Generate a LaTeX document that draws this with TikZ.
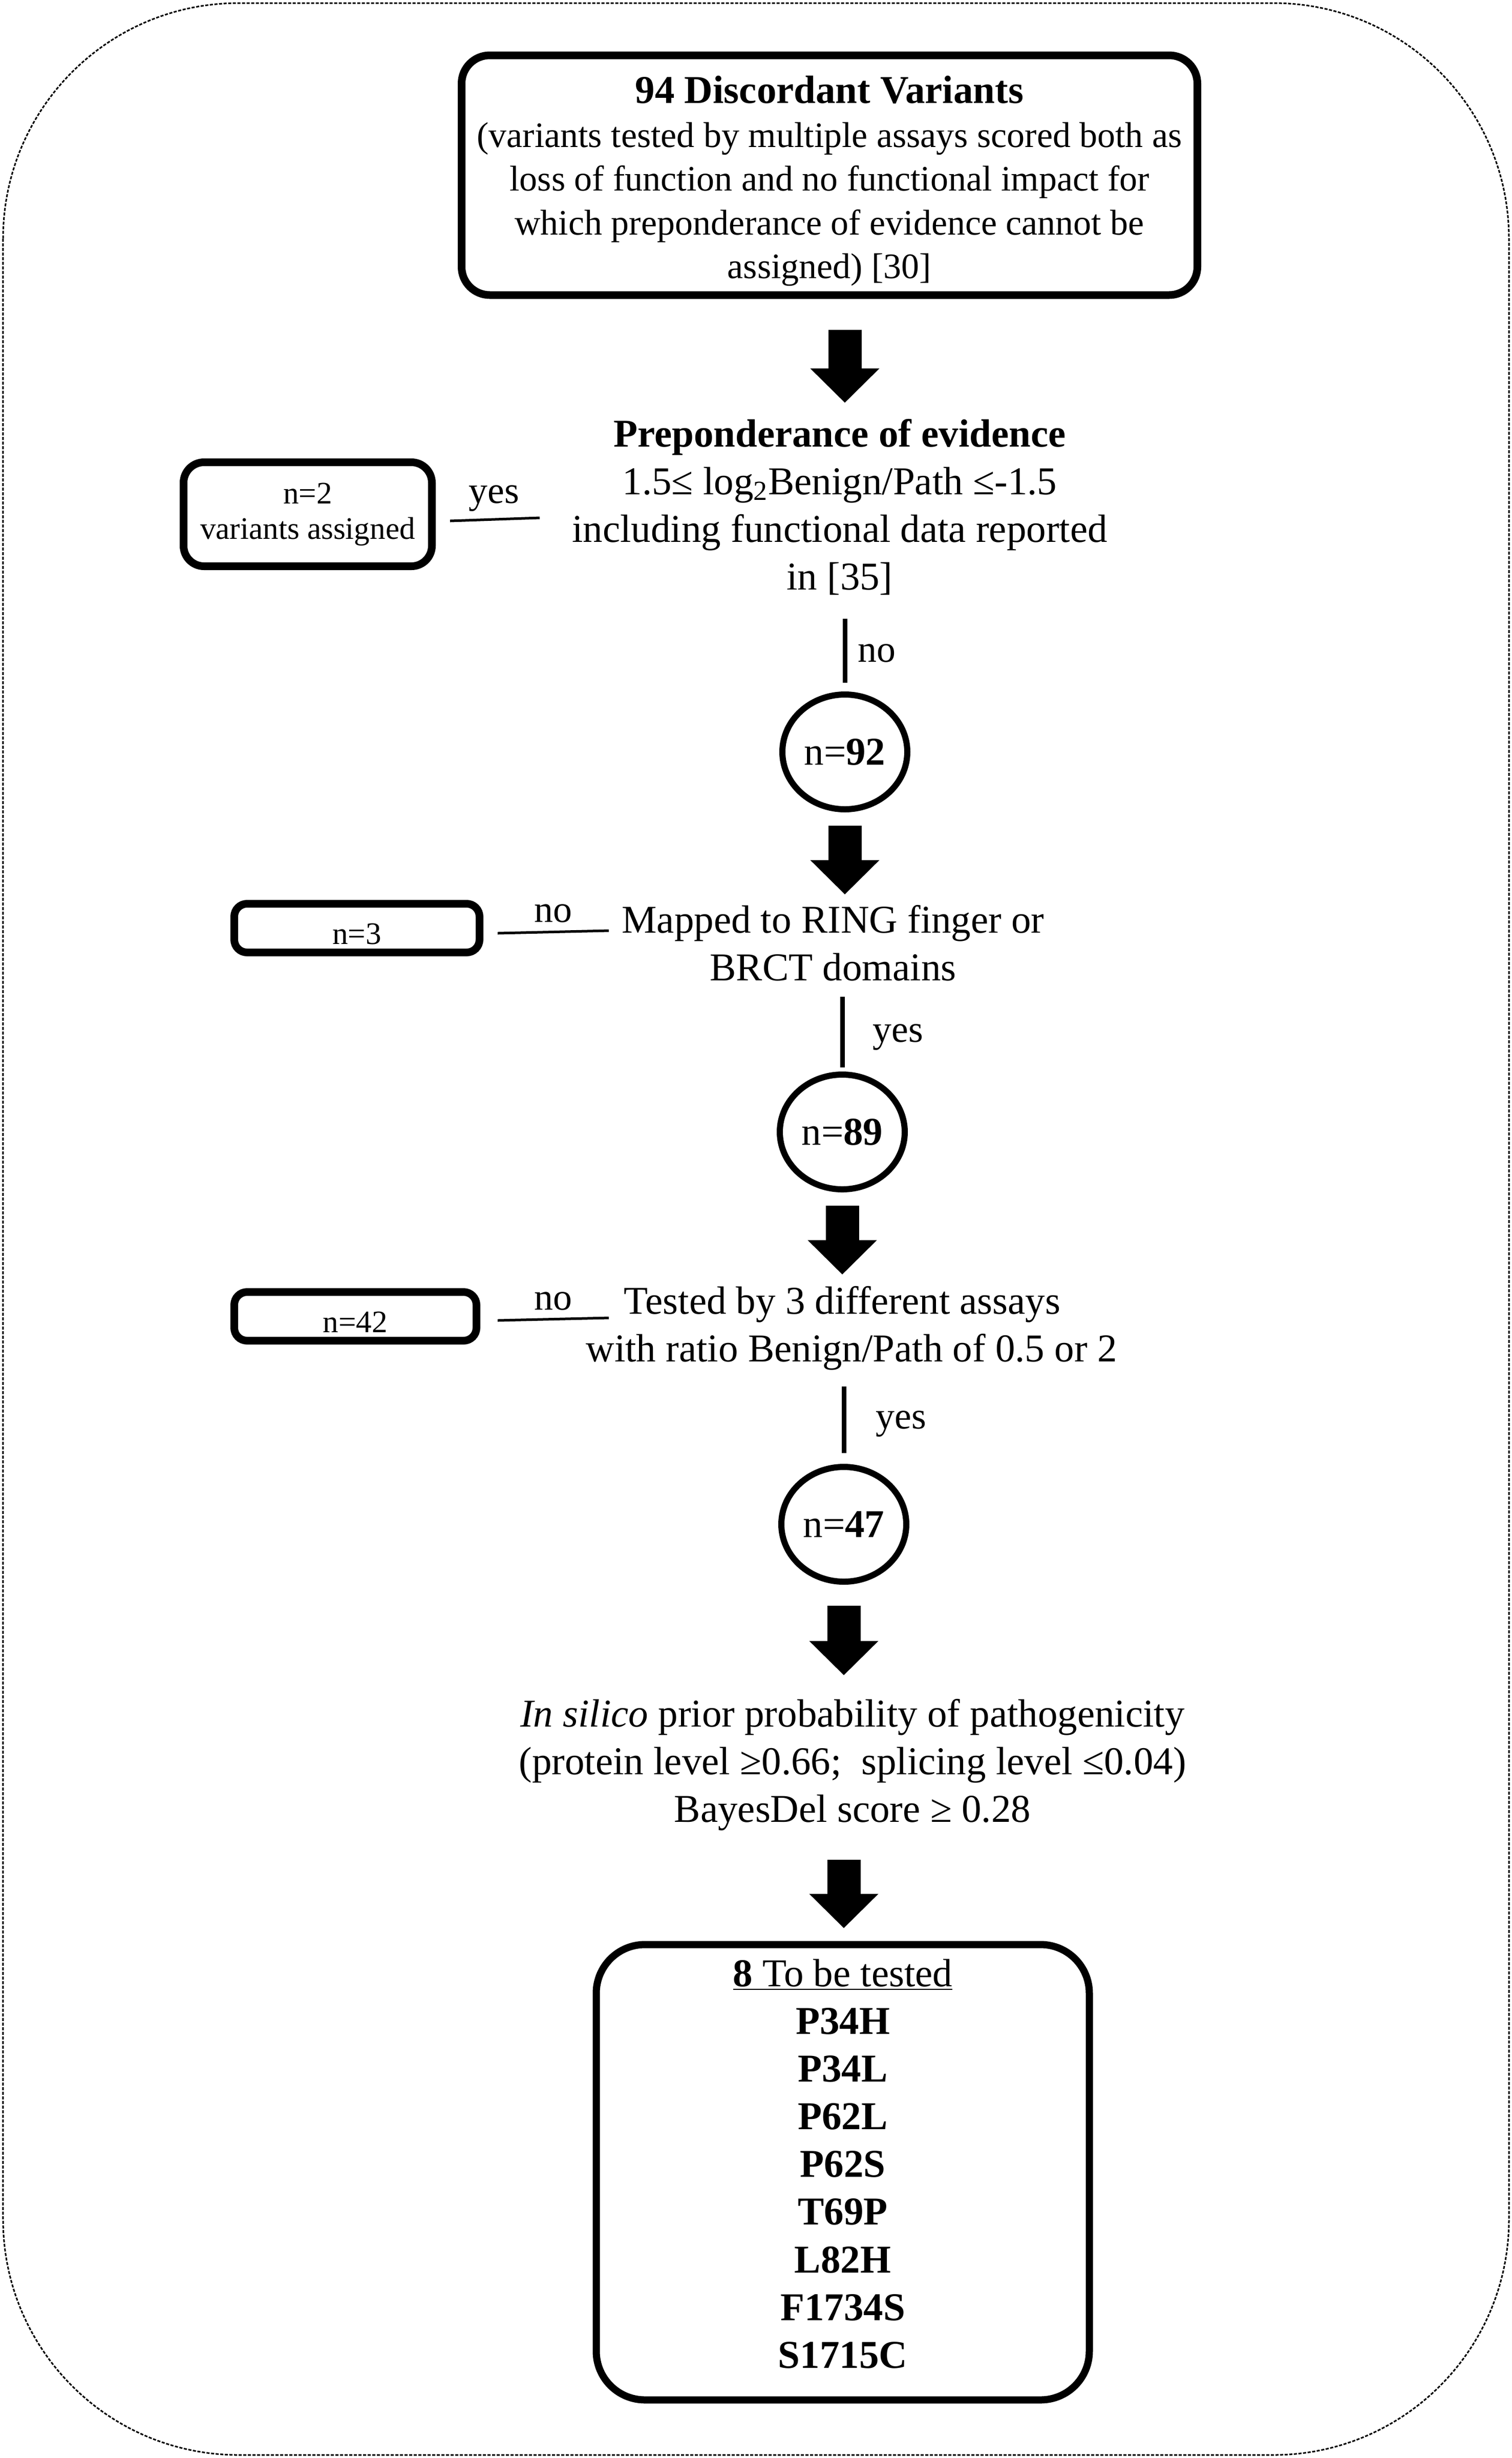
\documentclass[tikz,border=0pt]{standalone}
\usepackage{fontspec}
\setmainfont{Liberation Serif}
\usetikzlibrary{shapes.geometric,arrows.meta}

\begin{document}
\begin{tikzpicture}[
    font=\fontsize{21.9}{26.5}\selectfont,
    every node/.style={inner sep=0pt, align=center},
    box/.style={draw, line width=0.15cm},
    count/.style={draw, ellipse, line width=0.12cm, minimum width=2.44cm, minimum height=2.24cm},
    small/.style={font=\fontsize{17.4}{19.6}\selectfont},
    tag/.style={font=\fontsize{21}{25}\selectfont},
    bigarrow/.style={line width=0.65cm, -{Triangle[width=1.31cm,length=0.67cm]}},
    stem/.style={line width=0.09cm},
    side/.style={line width=0.05cm}]
    \useasboundingbox (0,0) rectangle (29.53,-47.99);
    \draw[line width=0.03cm, dash pattern=on 0.06cm off 0.03cm, rounded corners=4.6cm] (0.06,-0.06) rectangle (29.47,-47.93);

    \node[box, text height=119pt, rounded corners=0.55cm, minimum width=14.37cm, minimum height=4.68cm, font=\fontsize{19.9}{24.3}\selectfont] (start) at (16.20,-3.42)
      {{\fontsize{21.9}{26.5}\selectfont\bfseries 94 Discordant Variants}\\(variants tested by multiple assays scored both as\\loss of function and no functional impact for\\which preponderance of evidence cannot be\\assigned) [30]};
    \node (pre) at (16.40,-9.90) {\textbf{Preponderance of evidence}\\1.5≤ log\textsubscript{2}Benign/Path ≤-1.5\\including functional data reported\\in [35]};
    \node[box, small, rounded corners=0.4cm, minimum width=4.85cm, minimum height=2.03cm] (two) at (6.01,-10.04) {n=2\\variants assigned};
    \node[count] (n92) at (16.50,-14.68) {n=\textbf{92}};
    \node (ring) at (16.27,-18.41) {Mapped to RING finger or\\BRCT domains};
    \node[box, small, text height=18pt, rounded corners=0.25cm, minimum width=4.79cm, minimum height=0.95cm] (three) at (6.97,-18.12) {n=3};
    \node[count] (n89) at (16.45,-22.10) {n=\textbf{89}};
    \node (assay) at (16.63,-25.93) {Tested by 3 different assays\kern0.36cm\\with ratio Benign/Path of 0.5 or 2};
    \node[box, small, text height=18pt, rounded corners=0.25cm, minimum width=4.73cm, minimum height=0.95cm] (fortytwo) at (6.94,-25.70) {n=42};
    \node[count] (n47) at (16.48,-29.76) {n=\textbf{47}};
    \node (silico) at (16.65,-34.46) {\textit{In silico} prior probability of pathogenicity\\(protein level ≥0.66; \ splicing level ≤0.04)\\BayesDel score ≥ 0.28};
    \node[box, line width=0.14cm, text depth=0.34cm, rounded corners=0.95cm, minimum width=9.63cm, minimum height=8.89cm] (final) at (16.46,-42.41)
      {\underline{\textbf{8} To be tested}\\\textbf{P34H}\\\textbf{P34L}\\\textbf{P62L}\\\textbf{P62S}\\\textbf{T69P}\\\textbf{L82H}\\\textbf{F1734S}\\\textbf{S1715C}};

    \node[tag] (yes1) at (9.65,-9.73) {yes};
    \node[tag] (no1) at (17.12,-12.75) {no};
    \node[tag] (no2) at (10.80,-17.83) {no};
    \node[tag] (yes2) at (17.54,-20.25) {yes};
    \node[tag] (no3) at (10.80,-25.40) {no};
    \node[tag] (yes3) at (17.60,-27.80) {yes};

    \draw[bigarrow, shorten <=0.60cm, shorten >=0.31cm] (start.south -| n92) -- (pre.north -| n92);
    \draw[stem, shorten <=0.45cm, shorten >=0.17cm] (pre.south -| n92) -- (n92.north);
    \draw[bigarrow, shorten <=0.26cm, shorten >=0.20cm] (n92.south) -- (ring.north -| n92);
    \draw[stem, shorten <=0.30cm, shorten >=0.08cm] (ring.south -| n89) -- (n89.north);
    \draw[bigarrow, shorten <=0.26cm, shorten >=0.22cm] (n89.south) -- (assay.north -| n89);
    \draw[stem, shorten <=0.31cm, shorten >=0.21cm] (assay.south -| n47) -- (n47.north);
    \draw[bigarrow, shorten <=0.41cm, shorten >=0.46cm] (n47.south) -- (silico.north -| n47);
    \draw[bigarrow, shorten <=0.56cm, shorten >=0.25cm] (silico.south -| n47) -- (final.north -| n47);

    \draw[side] ([shift={(0.28,-0.13)}]two.east) -- ++(1.75,0.06);
    \draw[side] ([shift={(0.28,-0.10)}]three.east) -- ++(2.17,0.05);
    \draw[side] ([shift={(0.34,-0.08)}]fortytwo.east) -- ++(2.17,0.05);
  \end{tikzpicture}
\end{document}
